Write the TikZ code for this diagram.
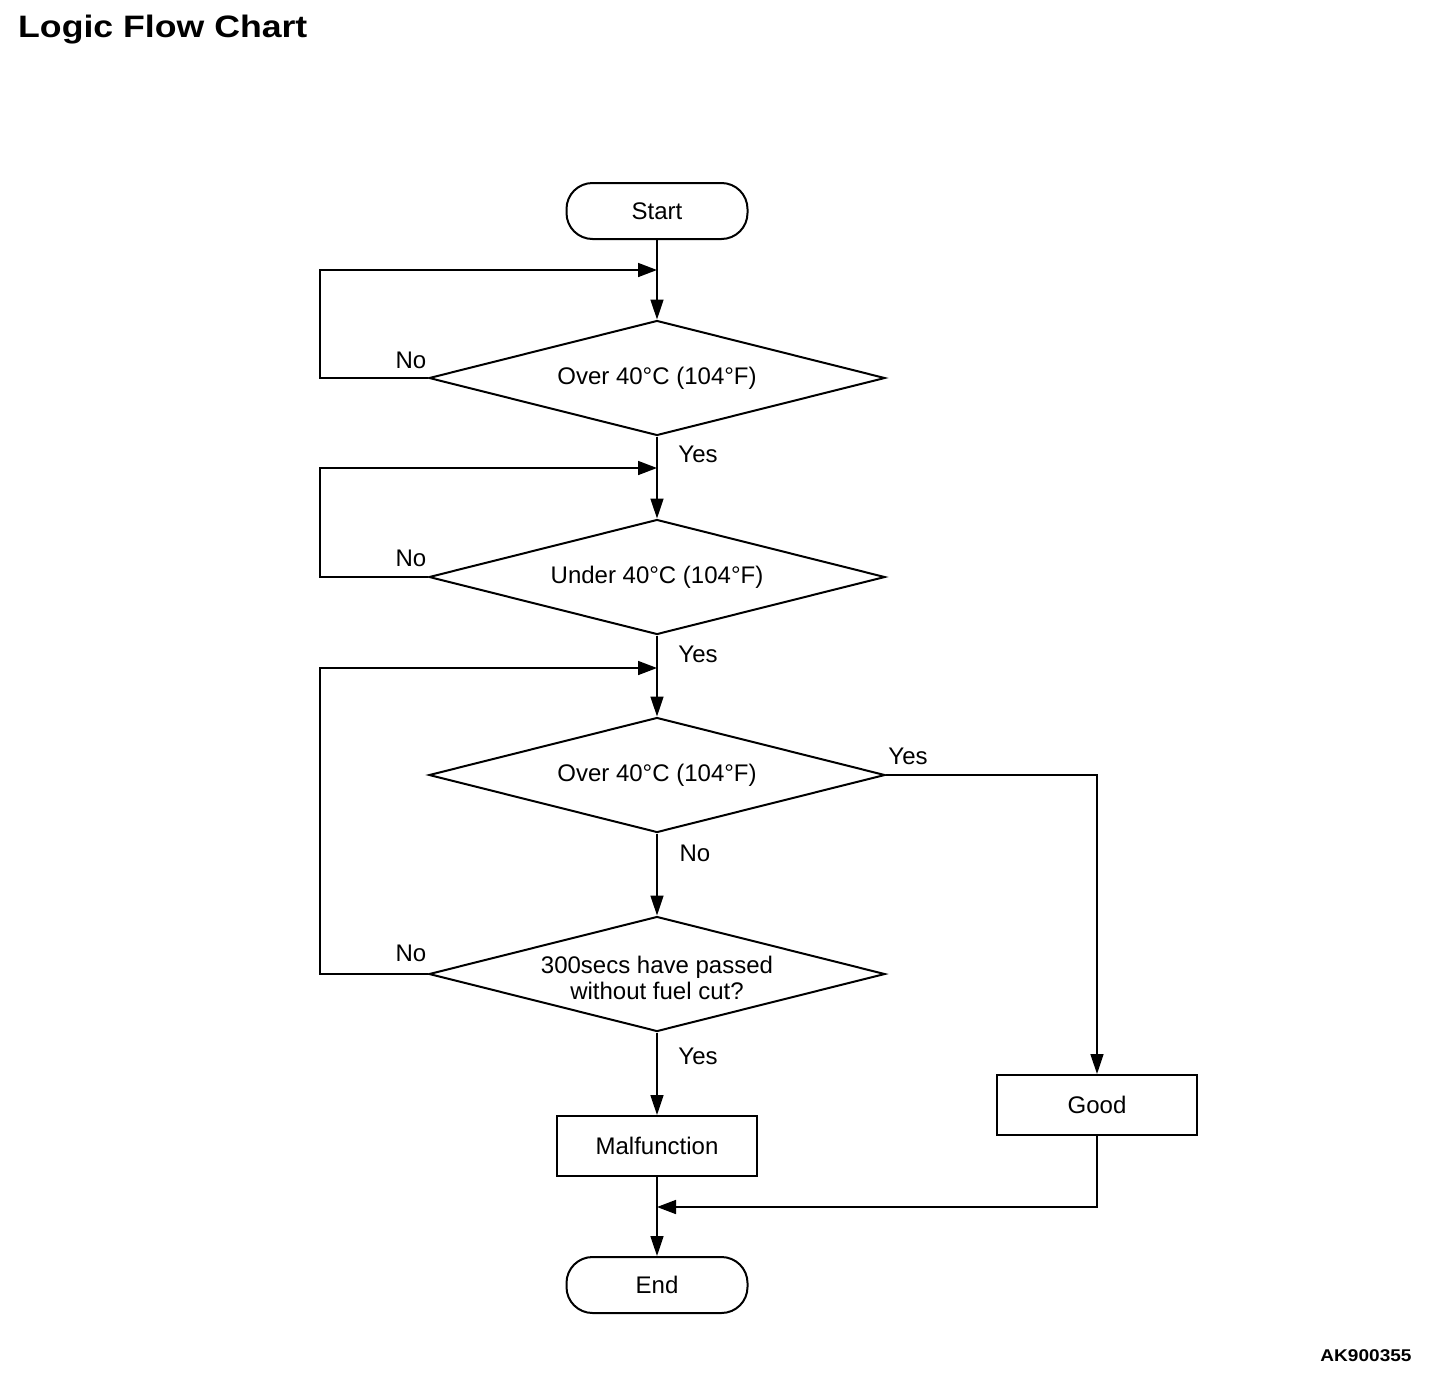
\documentclass[tikz,border=0pt]{standalone}
\usepackage{fontspec}
\setmainfont{Liberation Sans}
\usetikzlibrary{shapes.geometric,arrows.meta}
\begin{document}
\begin{tikzpicture}[x=1pt,y=-1pt,
  txt/.style={font=\fontsize{24}{25}\selectfont},
  term/.style={draw, line width=2pt, rounded corners=26pt, minimum width=181pt, minimum height=56pt, inner sep=0pt, txt},
  decision/.style={draw, diamond, line width=2pt, minimum width=456pt, minimum height=115pt, shape aspect=4, inner sep=0pt, align=center, txt},
  proc/.style={draw, rectangle, line width=2pt, minimum width=200pt, minimum height=60pt, inner sep=0pt, txt},
  lbl/.style={txt},
  arr/.style={line width=1.6pt, -{Triangle[length=20pt,width=13pt]}},
  arrh/.style={line width=1.6pt, -{Triangle[length=19pt,width=14pt]}}
]
\useasboundingbox (0,0) rectangle (1440,1376);

% title and code
\node[anchor=base west, inner sep=0pt] (title) at (18,37) {\scalebox{1.15}[1]{\fontsize{31}{34}\selectfont\bfseries Logic Flow Chart}};
\node[inner sep=0pt] (code) at (1366,1356) {\scalebox{1.12}[1]{\fontsize{17}{19}\selectfont\bfseries AK900355}};

% nodes
\node[term] (start) at (657,211) {Start};
\node[decision] (d1) at (657,378) {Over 40°C (104°F)};
\node[decision] (d2) at (657,577) {Under 40°C (104°F)};
\node[decision] (d3) at (657,775) {Over 40°C (104°F)};
\node[decision] (d4) at (657,974) {\raisebox{-4pt}[\height][\depth]{\shortstack{300secs have passed\\without fuel cut?}}};
\node[proc] (mal) at (657,1146) {Malfunction};
\node[proc] (good) at (1097,1105) {Good};
\node[term] (end) at (657,1285) {End};

% junction coordinates
\coordinate (j1) at (657,270);
\coordinate (j2) at (657,468);
\coordinate (j3) at (657,668);
\coordinate (j4) at (657,1207);
\coordinate (l1) at (320,270);
\coordinate (l2) at (320,468);
\coordinate (l3) at (320,668);

% connectors
\draw[arr] (start) -- (d1);
\draw[arrh] (d1.west) -| (l1) -- (j1);
\draw[arr] (d1) -- (d2);
\draw[arrh] (d2.west) -| (l2) -- (j2);
\draw[arr] (d2) -- (d3);
\draw[arrh] (d4.west) -| (l3) -- (j3);
\draw[arr] (d3) -- (d4);
\draw[arr] (d3.east) -| (good.north);
\draw[arr] (d4) -- (mal);
\draw[arr] (mal) -- (end);
\draw[arrh] (good.south) |- (j4);

% labels
\node[lbl] (n1) at (411,360) {No};
\node[lbl] (n2) at (411,558) {No};
\node[lbl] (n4) at (411,953) {No};
\node[lbl] (y1) at (698,454) {Yes};
\node[lbl] (y2) at (698,654) {Yes};
\node[lbl] (y3) at (908,756) {Yes};
\node[lbl] (n3) at (695,853) {No};
\node[lbl] (y4) at (698,1056) {Yes};
\end{tikzpicture}
\end{document}
